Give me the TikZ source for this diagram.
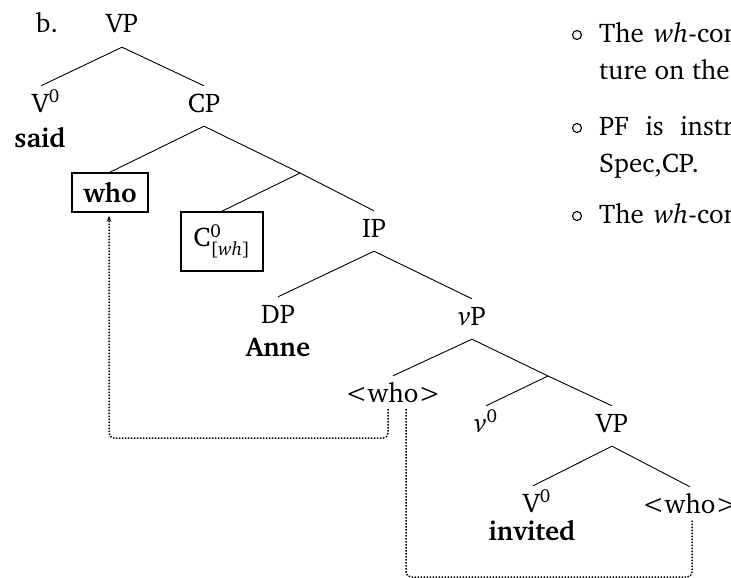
\documentclass[tikz,border=0pt]{standalone}
\usepackage[T1]{fontenc}
\usepackage{charter}
\usepackage{amsmath}
\usetikzlibrary{arrows.meta}
\begin{document}
\begin{tikzpicture}[x=1pt,y=-1pt,
  every node/.style={font=\fontsize{27}{37}\selectfont},
  tn/.style={anchor=base, text height=19pt, text depth=7pt, inner ysep=7pt, inner xsep=1pt},
  word/.style={anchor=base, inner sep=0pt, font=\fontsize{27}{37}\selectfont\bfseries},
  boxed/.style={draw, line width=1.6pt, inner sep=0pt, anchor=center},
  txt/.style={anchor=base west, inner sep=0pt},
  edge/.style={line width=0.9pt},
  dotl/.style={line width=1.5pt, dash pattern=on 1.5pt off 1.5pt, rounded corners=5pt},
  bul/.style={circle, draw, line width=1.1pt, minimum size=9pt, inner sep=0pt}
]
\useasboundingbox (0,0) rectangle (731,578);
\clip (0,0) rectangle (731,578);

% tree
\node[anchor=base, inner sep=0pt] (lab) at (47,33) {b.};
\node[tn] (VP) at (122,33) {VP};
\node[tn] (V0) at (46,112) {V$^{\text{0}}$};
\node[word] (said) at (40,147) {said};
\node[tn] (CP) at (204,112) {CP};
\node[boxed, minimum width=76pt, minimum height=39pt] (who) at (110,192.5) {\bfseries who};
\coordinate (Cbar) at (300,173);
\node[boxed, minimum width=82pt, minimum height=59pt] (C0) at (222,241.5) {C$^{\text{0}}_{\text{[\textit{wh}]}}$};
\node[tn] (IP) at (374,237) {IP};
\node[tn] (DP) at (278,323) {DP};
\node[word] (Anne) at (278,356) {Anne};
\node[tn] (vP) at (472,325) {\textit{v}P};
\node[tn] (whoA) at (393,402) {<who>};
\coordinate (vbar) at (548,376);
\node[tn] (v0) at (486,432) {\textit{v}$^{\text{0}}$};
\node[tn] (VPb) at (612,432) {VP};
\node[tn] (V0b) at (537,512) {V$^{\text{0}}$};
\node[word] (invited) at (532,540) {invited};
\node[tn] (whoB) at (690,513) {<who>};

\draw[edge] (VP.south) -- ([xshift=-5pt]V0.north);
\draw[edge] (VP.south) -- (CP.north);
\draw[edge] (CP.south) -- (who.north);
\draw[edge] (CP.south) -- (Cbar) -- (IP.north);
\draw[edge] (Cbar) -- (C0.north);
\draw[edge] (IP.south) -- (DP.north);
\draw[edge] (IP.south) -- (vP.north);
\draw[edge] (vP.south) -- (whoA.north);
\draw[edge] (vP.south) -- (vbar) -- (VPb.north);
\draw[edge] (vbar) -- (v0.north);
\draw[edge] (VPb.south) -- ([xshift=-4pt]V0b.north);
\draw[edge] (VPb.south) -- (whoB.north);

% movement
\coordinate (bendA) at (109,438);
\coordinate (bendB) at (692,577);
\draw[dotl, -{Stealth[length=6pt,width=4.5pt]}] ([xshift=-5pt,yshift=7pt]whoA.south) |- (bendA) -- ([xshift=-1pt,yshift=-3pt]who.south);
\draw[dotl] ([xshift=13pt,yshift=7pt]whoA.south) |- (bendB) -- ([xshift=2pt,yshift=7pt]whoB.south);

% bullets
\node[bul] (b1) at (577,35) {};
\node[bul] (b2) at (577,128) {};
\node[bul] (b3) at (577,216) {};
\node[txt] (t1) at (599,43) {The\hspace{3pt} \textit{wh}-con};
\node[txt] (t2) at (599,80) {ture on the};
\node[txt] (t3) at (599,135) {PF\hspace{9pt} is\hspace{9pt} instr};
\node[txt] (t4) at (599,172) {Spec,CP.};
\node[txt] (t5) at (599,223) {The\hspace{3pt} \textit{wh}-con};
\end{tikzpicture}
\end{document}
